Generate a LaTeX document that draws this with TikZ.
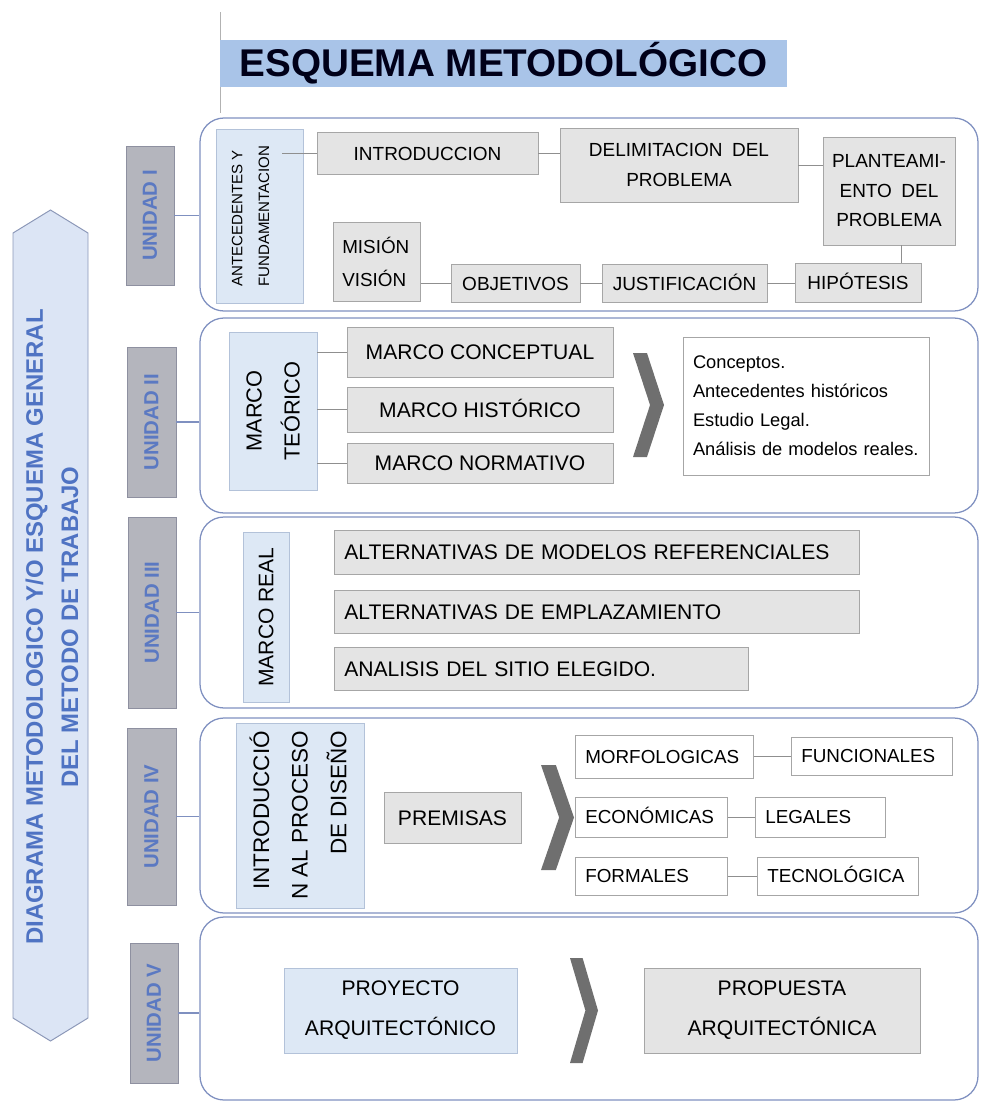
\documentclass[tikz,border=0pt]{standalone}
\usepackage{fontspec}
\setmainfont{Liberation Sans}
\usetikzlibrary{shadows}

\newlength\pxu \setlength\pxu{0.025cm}
\newcommand\setfs[2]{\fontsize{#1}{#2}\selectfont}
\newcommand\chev[4]{\fill[chevgray] (#1,#3) -- ({#1+0.45*(#2-#1)},#3) -- (#2,{(#3+#4)/2}) -- ({#1+0.45*(#2-#1)},#4) -- (#1,#4) -- ({#2-0.45*(#2-#1)},{(#3+#4)/2}) -- cycle;}

\definecolor{frameblue}{HTML}{7F90C0}
\definecolor{unitgray}{HTML}{B4B5BD}
\definecolor{unitborder}{HTML}{8E90A0}
\definecolor{unittext}{HTML}{5B79C2}
\definecolor{lightblue}{HTML}{DDE8F5}
\definecolor{lbborder}{HTML}{B3C2D9}
\definecolor{boxgray}{HTML}{E4E4E4}
\definecolor{boxborder}{HTML}{A6A6A6}
\definecolor{titleblue}{HTML}{A9C4E8}
\definecolor{hexfill}{HTML}{DCE5F5}
\definecolor{hexborder}{HTML}{8C98B8}
\definecolor{hextext}{HTML}{4F73C3}
\definecolor{chevgray}{HTML}{6F6F6F}
\definecolor{linegray}{HTML}{8F8F8F}

\begin{document}
\begin{tikzpicture}[x=0.025cm, y=-0.025cm,
		sz/.style 2 args={minimum width=#1\pxu, minimum height=#2\pxu},
		boxh/.style={minimum height=#1\pxu},
		txt/.code={\pgfmathsetmacro\txtht{0.74*#1}%
			\edef\txtset{\noexpand\tikzset{font=\noexpand\setfs{#1}{#1}, text height=\txtht pt, text depth=0pt}}\txtset},
		frame/.style={draw=frameblue, line width=0.9pt, rounded corners=0.6cm, inner sep=0pt},
		unitbox/.style={draw=unitborder, fill=unitgray, text=unittext, inner sep=0pt, font=\bfseries\setfs{14.5}{16}},
		bluebox/.style={draw=lbborder, fill=lightblue, inner sep=0pt},
		graybox/.style={draw=boxborder, fill=boxgray, inner sep=0pt, drop shadow={shadow xshift=0.7pt, shadow yshift=-0.7pt, opacity=0.3}},
		whitebox/.style={draw=boxborder, fill=white, inner sep=0pt, drop shadow={shadow xshift=0.7pt, shadow yshift=-0.7pt, opacity=0.2}},
		leftbox/.style={anchor=west, align=left, inner xsep=10\pxu, inner ysep=0pt},
		link/.style={draw=linegray, line width=0.6pt},
		unitlink/.style={draw=frameblue, line width=0.8pt}]
		\useasboundingbox (0,0) rectangle (987,1107);
%		\draw[help lines,step=50] (0,0) grid (987,1107);

		% title
		\path (220,12) coordinate (vtop);
		\path (220,113) coordinate (vbot);
		\draw[gray!60, line width=0.6pt] (vtop) -- (vbot);
		\path (503.5,63.5) node(title) [fill=titleblue, sz={567}{47}, inner sep=0pt, text=black!90!blue, font=\bfseries\setfs{27.5}{30}] {ESQUEMA METODOLÓGICO};

		% left banner
		\draw[draw=hexborder, fill=hexfill, line width=0.7pt] (13,233) -- (50.5,210) -- (88,233) -- (88,1018) -- (50.5,1041) -- (13,1018) -- cycle;
		\path (52,627) node(diag) [rotate=90, align=center, text=hextext, font=\bfseries\setfs{17}{25}] {DIAGRAMA METODOLOGICO Y/O ESQUEMA GENERAL\\DEL METODO DE TRABAJO};

		% frames
		\path (589,214.5) node(fa) [frame, sz={778}{193}] {};
		\path (589,415.5) node(fb) [frame, sz={778}{195}] {};
		\path (589,612.5) node(fc) [frame, sz={778}{191}] {};
		\path (589,815.5) node(fd) [frame, sz={778}{195}] {};
		\path (589,1008.5) node(fe) [frame, sz={778}{183}] {};

		% unidades
		\path (150,215.5) node(ua) [unitbox, sz={48}{139}] {\rotatebox{90}{UNIDAD I}};
		\path (151.5,422) node(ub) [unitbox, sz={49}{150}] {\rotatebox{90}{UNIDAD II}};
		\path (152,612.5) node(uc) [unitbox, sz={48}{191}] {\rotatebox{90}{UNIDAD III}};
		\path (151.5,816.5) node(ud) [unitbox, sz={49}{177}] {\rotatebox{90}{UNIDAD IV}};
		\path (154,1013) node(ue) [unitbox, sz={48}{140}] {\rotatebox{90}{UNIDAD V}};
		\draw[unitlink] (ua) -- (ua -| fa.west);
		\draw[unitlink] (ub) -- (ub -| fb.west);
		\draw[unitlink] (uc) -- (uc -| fc.west);
		\draw[unitlink] (ud) -- (ud -| fd.west);
		\draw[unitlink] (ue) -- (ue -| fe.west);

		% unidad I
		\path (259.5,216) node(ante) [bluebox, sz={87}{174}] {\rotatebox{90}{\setfs{10.7}{19}\begin{tabular}{@{}l@{}}ANTECEDENTES Y\\FUNDAMENTACION\end{tabular}}\hspace*{18\pxu}};
		\path (427.5,153) node(intro) [graybox, sz={221}{42}, txt=13.5] {INTRODUCCION};
		\path (679,165) node(delim) [graybox, sz={238}{74}, align=center, font=\setfs{13.5}{21}] {DELIMITACION\enspace DEL\\PROBLEMA};
		\path (889,191) node(plant) [graybox, sz={132}{108}, align=center, font=\setfs{13.5}{21}] {PLANTEAMI-\\ENTO\enspace DEL\\PROBLEMA};
		\path (333,261.5) node(misvis) [graybox, leftbox, inner xsep=9\pxu, text width=69\pxu, boxh=79, font=\setfs{13.4}{23.5}] {MISIÓN\\VISIÓN};
		\path (515.5,283) node(obj) [graybox, sz={129}{38}, txt=13.5] {OBJETIVOS};
		\path (684.5,283) node(just) [graybox, sz={165}{38}, txt=13.5] {JUSTIFICACIÓN};
		\path (858,282.5) node(hip) [graybox, sz={126}{39}, txt=13.5] {HIPÓTESIS};
		\path ([xshift=-21\pxu]ante.east) coordinate (aout);
		\path ([xshift=12\pxu]plant.south) coordinate (pdrop);
		\draw[link] (aout |- intro.west) -- (intro.west);
		\draw[link] (intro.east) -- (intro.east -| delim.west);
		\draw[link] (delim.east) -- (delim.east -| plant.west);
		\draw[link] (pdrop) -- (pdrop |- hip.north);
		\draw[link] (misvis.east |- obj.west) -- (obj.west);
		\draw[link] (obj.east) -- (obj.east -| just.west);
		\draw[link] (just.east) -- (just.east -| hip.west);

		% unidad II
		\path (273,411) node(mteo) [bluebox, sz={88}{158}] {\rotatebox{90}{\setfs{15.5}{27}\begin{tabular}{@{}c@{}}MARCO\\TEÓRICO\end{tabular}}};
		\path (480,352) node(mcon) [graybox, sz={266}{50}, txt=15] {MARCO CONCEPTUAL};
		\path (480,409.5) node(mhis) [graybox, sz={266}{45}, txt=15] {MARCO HISTÓRICO};
		\path (480,463) node(mnor) [graybox, sz={266}{40}, txt=15] {MARCO NORMATIVO};
		\draw[link] (mteo.east |- mcon.west) -- (mcon.west);
		\draw[link] (mteo.east |- mhis.west) -- (mhis.west);
		\draw[link] (mteo.east |- mnor.west) -- (mnor.west);
		\chev{633}{664}{353}{457}
		\path (806,406) node(lista) [whitebox, sz={246}{138}, align=left, text width=226\pxu, font=\setfs{13}{20.6}] {Conceptos.\\Antecedentes históricos\\Estudio Legal.\\Análisis de modelos reales.};

		% unidad III
		\path (266,617) node(mreal) [bluebox, sz={46}{170}] {\rotatebox{90}{\setfs{15}{17}MARCO REAL}};
		\path (334,552) node(alta) [graybox, leftbox, text width=505\pxu, boxh=44, txt=15] {ALTERNATIVAS DE MODELOS REFERENCIALES};
		\path (334,611.5) node(altb) [graybox, leftbox, text width=505\pxu, boxh=43, txt=15] {ALTERNATIVAS DE EMPLAZAMIENTO};
		\path (334,668.5) node(sitio) [graybox, leftbox, text width=394\pxu, boxh=43, txt=15] {ANALISIS DEL SITIO ELEGIDO.};

		% unidad IV
		\path (300,815.5) node(intdis) [bluebox, sz={128}{185}] {\rotatebox{90}{\setfs{16}{27.5}\begin{tabular}{@{}r@{}}INTRODUCCIÓ\\N AL PROCESO\\DE DISEÑO\end{tabular}}};
		\path (452.5,817.5) node(prem) [graybox, sz={137}{51}, txt=15] {PREMISAS};
		\chev{541}{574}{765}{870}
		\path (575,756.5) node(morf) [whitebox, leftbox, text width=158\pxu, boxh=43, txt=13.4] {MORFOLOGICAS};
		\path (791,756) node(func) [whitebox, leftbox, text width=141\pxu, boxh=38, txt=13.4] {FUNCIONALES};
		\path (575,817) node(econ) [whitebox, leftbox, text width=132\pxu, boxh=40, txt=13.4] {ECONÓMICAS};
		\path (755,817) node(leg) [whitebox, leftbox, text width=110\pxu, boxh=40, txt=13.4] {LEGALES};
		\path (575,876) node(form) [whitebox, leftbox, text width=132\pxu, boxh=38, txt=13.4] {FORMALES};
		\path (757,876) node(tec) [whitebox, leftbox, text width=141\pxu, boxh=38, txt=13.4] {TECNOLÓGICA};
		\draw[link] (morf.east) -- (morf.east -| func.west);
		\draw[link] (econ.east) -- (econ.east -| leg.west);
		\draw[link] (form.east) -- (form.east -| tec.west);

		% unidad V
		\path (400.5,1010.5) node(proy) [bluebox, sz={233}{85}, align=center, font=\setfs{15}{28.5}] {PROYECTO\\ARQUITECTÓNICO};
		\chev{570}{598}{958}{1063}
		\path (782,1010.5) node(prop) [graybox, sz={276}{85}, align=center, font=\setfs{15}{28.5}] {PROPUESTA\\ARQUITECTÓNICA};
\end{tikzpicture}
\end{document}
